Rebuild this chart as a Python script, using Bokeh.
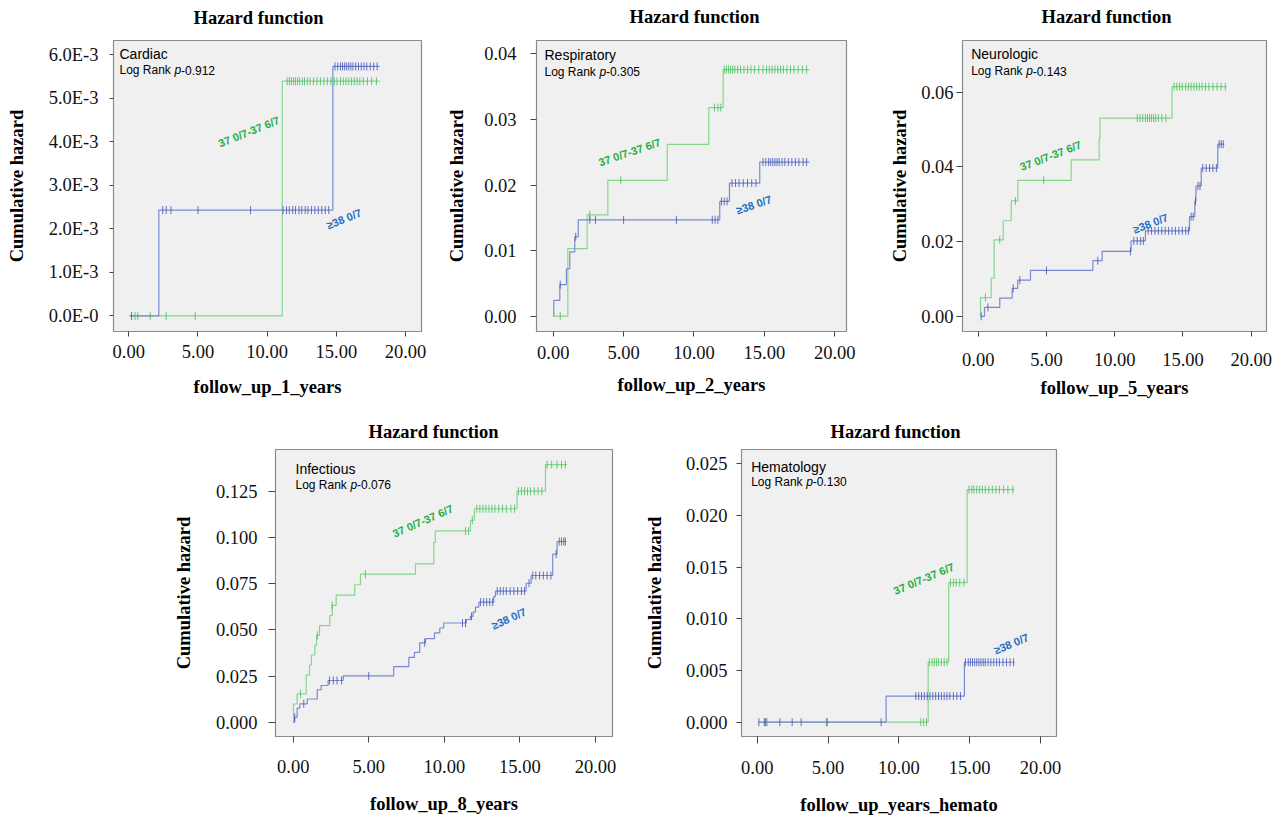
import numpy as np
from bokeh.plotting import figure
from bokeh.layouts import row, column
from bokeh.models import Spacer, Range1d, FixedTicker, Label
from bokeh.core.properties import value
from bokeh.embed import file_html
from bokeh.resources import INLINE

# ---------------- data ----------------
x_ticks = [0, 5, 10, 15, 20]
x_tick_labels = ["0.00", "5.00", "10.00", "15.00", "20.00"]

group_labels = ["37 0/7-37 6/7", "\u226538 0/7"]
chart_title = "Hazard function"
y_axis_title = "Cumulative hazard"

# Cardiac
cardiac_green_t = [0.05, 11.09, 18.13]
cardiac_green_h = [0.0, 5.39e-3, 5.39e-3]
cardiac_blue_t = [0.05, 2.17, 14.75, 18.13]
cardiac_blue_h = [0.0, 2.43e-3, 5.73e-3, 5.73e-3]
cardiac_green_cens = [0.45, 0.65, 1.55, 2.7, 4.8, 11.45, 11.6, 11.75, 11.9, 12.05, 12.2, 12.35, 12.55, 12.7,
                      12.9, 13.1, 13.35, 13.6, 13.85, 14.1, 14.35, 14.6, 14.85, 15.05, 15.3, 15.5, 15.7, 15.9,
                      16.1, 16.3, 16.5, 16.7, 16.95, 17.25, 17.55, 17.9]
cardiac_blue_cens = [0.2, 2.45, 2.7, 3.05, 5.0, 8.8, 11.15, 11.4, 11.6, 11.85, 12.05, 12.3, 12.5, 12.75, 12.95,
                     13.2, 13.45, 13.7, 13.95, 14.2, 14.45, 14.9, 15.1, 15.3, 15.45, 15.6, 15.75, 15.9, 16.05,
                     16.2, 16.4, 16.6, 16.8, 17.0, 17.2, 17.45, 17.7, 17.95]
cardiac_y_ticks = [0, 1e-3, 2e-3, 3e-3, 4e-3, 5e-3, 6e-3]
cardiac_y_labels = ["0.0E-0", "1.0E-3", "2.0E-3", "3.0E-3", "4.0E-3", "5.0E-3", "6.0E-3"]

# Respiratory
resp_green_t = [0.0, 1.04, 2.41, 3.88, 8.1, 11.05, 12.07, 18.2]
resp_green_h = [0.0, 0.0103, 0.01545, 0.0207, 0.0262, 0.0318, 0.0376, 0.0376]
resp_blue_t = [0.0, 0.04, 0.47, 0.94, 1.18, 1.53, 1.78, 11.83, 12.52, 14.67, 18.2]
resp_blue_h = [0.0, 0.0024, 0.0048, 0.0072, 0.0098, 0.0121, 0.0147, 0.0175, 0.0203, 0.0235, 0.0235]
resp_green_cens = [0.5, 2.6, 4.8, 11.45, 11.7, 11.9, 12.15, 12.3, 12.45, 12.6, 12.75, 12.9, 13.1, 13.3, 13.55,
                   13.8, 14.05, 14.3, 14.6, 14.9, 15.15, 15.35, 15.55, 15.75, 15.95, 16.15, 16.35, 16.6, 16.85,
                   17.1, 17.4, 17.7, 18.0]
resp_blue_cens = [0.5, 1.6, 2.6, 3.0, 5.0, 8.75, 11.3, 11.5, 11.7, 11.95, 12.15, 12.35, 12.7, 12.95, 13.2, 13.5,
                  13.8, 14.1, 14.4, 14.9, 15.1, 15.3, 15.45, 15.6, 15.75, 15.9, 16.05, 16.25, 16.45, 16.7, 16.95,
                  17.2, 17.45, 17.75, 18.0]
resp_y_ticks = [0, 0.01, 0.02, 0.03, 0.04]
resp_y_labels = ["0.00", "0.01", "0.02", "0.03", "0.04"]

# Neurologic
neuro_green_t = [0.17, 0.17, 0.95, 1.17, 1.83, 2.42, 2.9, 6.81, 8.86, 8.92, 14.2, 18.2]
neuro_green_h = [0.0, 0.005, 0.0102, 0.0205, 0.0256, 0.0309, 0.0364, 0.0419, 0.0475, 0.0531, 0.0615, 0.0615]
neuro_blue_t = [0.17, 0.46, 1.58, 2.49, 2.9, 3.83, 8.4, 9.08, 11.2, 12.25, 15.48, 15.87, 15.95, 16.34, 17.55, 18.04]
neuro_blue_h = [0.0, 0.0024, 0.0049, 0.0075, 0.0097, 0.0123, 0.0149, 0.0174, 0.0202, 0.0229, 0.0267, 0.0308,
                0.0349, 0.0397, 0.0461, 0.0461]
neuro_green_cens = [0.53, 1.58, 2.73, 4.8, 11.65, 11.85, 12.05, 12.25, 12.4, 12.55, 12.7, 12.85, 13.0, 13.2,
                    13.45, 13.75, 14.35, 14.55, 14.75, 14.95, 15.2, 15.4, 15.6, 15.8, 16.0, 16.2, 16.4, 16.65,
                    16.9, 17.2, 17.5, 17.8, 18.1]
neuro_blue_cens = [0.22, 0.71, 2.56, 3.05, 5.0, 8.76, 11.15, 11.4, 11.65, 11.9, 12.1, 12.45, 12.7, 12.95, 13.2,
                   13.45, 13.7, 13.95, 14.2, 14.45, 14.7, 14.95, 15.2, 15.4, 15.6, 15.75, 15.92, 16.1, 16.25,
                   16.45, 16.7, 16.95, 17.2, 17.45, 17.65, 17.8, 17.95]
neuro_y_ticks = [0, 0.02, 0.04, 0.06]
neuro_y_labels = ["0.00", "0.02", "0.04", "0.06"]

# Infectious
inf_green_t = [0.0, 0.02, 0.26, 0.86, 1.08, 1.2, 1.43, 1.54, 1.74, 2.42, 2.58, 2.84, 4.07, 4.45, 8.09, 9.3, 9.4,
               11.73, 11.99, 14.81, 16.69, 18.12]
inf_green_h = [0.0, 0.0099, 0.0154, 0.0256, 0.031, 0.0364, 0.0417, 0.047, 0.0523, 0.0577, 0.0632, 0.0688, 0.0744,
               0.0801, 0.0857, 0.0973, 0.1035, 0.1093, 0.1155, 0.125, 0.1394, 0.1394]
inf_blue_t = [0.0, 0.09, 0.26, 0.44, 0.93, 1.59, 1.85, 2.31, 3.31, 6.65, 7.65, 8.02, 8.37, 8.75, 9.35, 9.7, 9.96,
              11.46, 11.73, 11.9, 12.06, 12.28, 13.27, 13.38, 15.41, 15.74, 17.17, 17.46, 18.08]
inf_blue_h = [0.0, 0.0027, 0.0077, 0.01, 0.0126, 0.0176, 0.0199, 0.0226, 0.0251, 0.0301, 0.0351, 0.0378, 0.043,
              0.0453, 0.0484, 0.051, 0.0537, 0.0556, 0.0573, 0.0596, 0.0623, 0.065, 0.068, 0.071, 0.0752, 0.0794,
              0.091, 0.0978, 0.0978]
inf_green_cens = [0.48, 1.6, 2.58, 4.78, 11.4, 11.6, 11.85, 12.15, 12.35, 12.55, 12.75, 12.95, 13.15, 13.35, 13.6,
                  13.85, 14.1, 14.4, 14.65, 14.9, 15.1, 15.3, 15.5, 15.7, 15.95, 16.2, 16.45, 16.8, 17.1, 17.45,
                  17.75, 18.0]
inf_blue_cens = [0.1, 0.7, 2.4, 2.65, 2.9, 3.2, 5.0, 8.7, 11.2, 11.4, 11.8, 12.4, 12.6, 12.8, 13.0, 13.2, 13.5,
                 13.7, 13.9, 14.1, 14.35, 14.6, 14.85, 15.1, 15.3, 15.6, 15.85, 16.05, 16.3, 16.55, 16.8, 17.05,
                 17.4, 17.6, 17.75, 17.9, 18.0]
inf_y_ticks = [0, 0.025, 0.05, 0.075, 0.1, 0.125]
inf_y_labels = ["0.000", "0.025", "0.050", "0.075", "0.100", "0.125"]

# Hematology
hem_green_t = [0.07, 12.07, 13.52, 14.82, 18.16]
hem_green_h = [0.0, 0.0058, 0.0135, 0.0225, 0.0225]
hem_blue_t = [0.07, 9.1, 14.63, 18.16]
hem_blue_h = [0.0, 0.00252, 0.0058, 0.0058]
hem_green_cens = [0.6, 0.7, 4.88, 11.55, 11.75, 11.95, 12.15, 12.35, 12.5, 12.65, 12.8, 13.0, 13.2, 13.4, 13.65,
                  13.85, 14.05, 14.3, 14.6, 14.95, 15.15, 15.3, 15.5, 15.7, 15.9, 16.1, 16.35, 16.6, 16.85, 17.1,
                  17.4, 17.7, 18.05]
hem_blue_cens = [0.12, 0.5, 0.6, 1.6, 2.47, 3.1, 4.94, 8.75, 11.2, 11.4, 11.6, 11.8, 12.0, 12.2, 12.4, 12.6, 12.8,
                 13.0, 13.2, 13.4, 13.6, 13.85, 14.1, 14.35, 14.7, 14.9, 15.05, 15.2, 15.35, 15.5, 15.65, 15.8,
                 15.95, 16.1, 16.3, 16.5, 16.7, 16.9, 17.1, 17.35, 17.6, 17.85, 18.1]
hem_y_ticks = [0, 0.005, 0.01, 0.015, 0.02, 0.025]
hem_y_labels = ["0.000", "0.005", "0.010", "0.015", "0.020", "0.025"]

panel_names = ["Cardiac", "Respiratory", "Neurologic", "Infectious", "Hematology"]
p_values = ["-0.912", "-0.305", "-0.143", "-0.076", "-0.130"]
x_axis_labels = ["follow_up_1_years", "follow_up_2_years", "follow_up_5_years", "follow_up_8_years",
                 "follow_up_years_hemato"]

# ---------------- styling ----------------
SERIF = "Liberation Serif"
SANS = "Liberation Sans"
BG = "#f0f0f0"
GREEN_LINE = "#86d68a"
GREEN_MARK = "#3fbf5a"
BLUE_LINE = "#7b89d2"
BLUE_MARK = "#3d52b8"
GREEN_TEXT = "#1fae45"
BLUE_TEXT = "#1d6fc6"


def step_at(times, haz, ts):
    idx = np.searchsorted(np.asarray(times), np.asarray(ts), side="right") - 1
    idx = np.clip(idx, 0, len(haz) - 1)
    return np.asarray(haz)[idx]


def title_band(W, Hb, tx, ty):
    t = figure(width=W, height=Hb, x_range=Range1d(0, W), y_range=Range1d(Hb, 0),
               output_backend="svg", toolbar_location=None, title=None,
               x_axis_type=None, y_axis_type=None,
               min_border_left=0, min_border_right=0, min_border_top=0, min_border_bottom=0,
               background_fill_color="white", border_fill_color="white", outline_line_color=None)
    t.grid.visible = False
    t.text(x=[tx], y=[ty], text=[chart_title], text_font=value(SERIF), text_font_style="bold",
           text_font_size=value("18.5px"), text_color="black", text_align="left", text_baseline="middle")
    return t


def make_panel(cfg):
    fw, fh = cfg["fw"], cfg["fh"]
    L, T, W, H = cfg["L"], cfg["T"], cfg["W"], cfg["H"]
    xs, xe = cfg["xr"]
    ys, ye = cfg["yr"]
    p = figure(width=W, height=H, x_range=Range1d(xs, xe), y_range=Range1d(ys, ye),
               output_backend="svg", toolbar_location=None, title=None,
               min_border_left=L, min_border_top=T, min_border_right=W - L - fw,
               min_border_bottom=H - T - fh,
               background_fill_color=BG, border_fill_color="white",
               outline_line_color="#8a8a8a", outline_line_width=1.2)
    p.xgrid.visible = False
    p.ygrid.visible = False
    px2x = (xe - xs) / fw
    px2y = (ye - ys) / fh

    for ax, tks, labs in ((p.xaxis, x_ticks, x_tick_labels), (p.yaxis, cfg["yt"], cfg["yl"])):
        ax.ticker = FixedTicker(ticks=tks)
        ax.major_label_overrides = {t: l for t, l in zip(tks, labs)}
        ax.axis_line_color = None
        ax.minor_tick_line_color = None
        ax.major_tick_in = 0
        ax.major_tick_line_color = "#444444"
        ax.major_label_text_font = SERIF
        ax.major_label_text_font_size = "18.5px"
        ax.major_label_text_color = "#111111"
        ax.axis_label_text_font = SERIF
        ax.axis_label_text_font_style = "bold"
        ax.axis_label_text_font_size = "18.5px"
        ax.axis_label_text_color = "black"
    p.xaxis.axis_label = cfg["xlabel"]
    p.yaxis.axis_label = y_axis_title
    p.xaxis.major_tick_out = cfg["xto"]
    p.xaxis.major_label_standoff = cfg["xls"]
    p.xaxis.axis_label_standoff = cfg["xas"]
    p.yaxis.major_tick_out = cfg["yto"]
    p.yaxis.major_label_standoff = cfg["yls"]
    p.yaxis.axis_label_standoff = cfg["yas"]

    # curves with censoring marks
    for t, h, cens, lc, mc in ((cfg["gt"], cfg["gh"], cfg["gc"], GREEN_LINE, GREEN_MARK),
                               (cfg["bt"], cfg["bh"], cfg["bc"], BLUE_LINE, BLUE_MARK)):
        p.step(t, h, mode="after", line_color=lc, line_width=1.2)
        p.scatter(cens, step_at(t, h, cens), marker="dash", angle=np.pi / 2, size=8,
                  line_color=mc, line_width=1.0, line_alpha=0.8)

    # corner annotation
    ax_, dy1, dy2 = cfg["ann"]
    x0 = xs + ax_ * px2x
    p.add_layout(Label(x=x0, y=ye - dy1 * px2y, text=cfg["name"], text_font=SANS, text_font_size="14px",
                       text_color="black", text_baseline="middle", text_align="left"))
    yl2 = ye - dy2 * px2y
    p.add_layout(Label(x=x0, y=yl2, text="Log Rank", text_font=SANS, text_font_size="12px",
                       text_color="black", text_baseline="middle", text_align="left"))
    p.add_layout(Label(x=x0, y=yl2, x_offset=55, text="p", text_font=SANS, text_font_size="12px",
                       text_font_style="italic", text_color="black", text_baseline="middle",
                       text_align="left"))
    p.add_layout(Label(x=x0, y=yl2, x_offset=61.5, text=cfg["pv"], text_font=SANS, text_font_size="12px",
                       text_color="black", text_baseline="middle", text_align="left"))

    # group labels
    for (lx, ly), txt, col in ((cfg["glab"], group_labels[0], GREEN_TEXT), (cfg["blab"], group_labels[1], BLUE_TEXT)):
        p.add_layout(Label(x=lx, y=ly, text=txt, angle=cfg["ang"], angle_units="deg", text_font=SANS,
                           text_font_size="11px", text_font_style="bold", text_color=col,
                           text_align="center", text_baseline="middle"))
    return p


HB1, HM1 = 36, 368   # title band / main height, top row
HB2, HM2 = 43, 371   # title band / main height, bottom row
cfgs = [
    dict(name=panel_names[0], pv=p_values[0], xlabel=x_axis_labels[0],
         gt=cardiac_green_t, gh=cardiac_green_h, gc=cardiac_green_cens,
         bt=cardiac_blue_t, bh=cardiac_blue_h, bc=cardiac_blue_cens,
         yt=cardiac_y_ticks, yl=cardiac_y_labels,
         W=440, H=HM1, L=113, T=2, fw=308, fh=294, xr=(-1.106, 21.156), yr=(-0.357e-3, 6.325e-3),
         tpos=(193, 17), xto=5, xls=8, xas=16, yto=4, yls=11, yas=19,
         ann=(6, 13.4, 30), glab=(8.68, 4.23e-3), blab=(15.55, 2.23e-3), ang=22),
    dict(name=panel_names[1], pv=p_values[1], xlabel=x_axis_labels[1],
         gt=resp_green_t, gh=resp_green_h, gc=resp_green_cens,
         bt=resp_blue_t, bh=resp_blue_h, bc=resp_blue_cens,
         yt=resp_y_ticks, yl=resp_y_labels,
         W=430, H=HM1, L=96, T=4, fw=310, fh=291, xr=(-1.186, 20.831), yr=(-0.002332, 0.04203),
         tpos=(189, 16.7), xto=5, xls=9, xas=13, yto=6, yls=14, yas=14,
         ann=(8, 14.3, 31), glab=(5.42, 0.025), blab=(14.25, 0.017), ang=19),
    dict(name=panel_names[2], pv=p_values[2], xlabel=x_axis_labels[2],
         gt=neuro_green_t, gh=neuro_green_h, gc=neuro_green_cens,
         bt=neuro_blue_t, bh=neuro_blue_h, bc=neuro_blue_cens,
         yt=neuro_y_ticks, yl=neuro_y_labels,
         W=410, H=HM1, L=92, T=1, fw=304, fh=294, xr=(-1.150, 21.121), yr=(-0.004055, 0.07386),
         tpos=(171, 16.7), xto=5, xls=16, xas=9, yto=6, yls=3, yas=8,
         ann=(8.7, 14, 31.3), glab=(5.3, 0.043), blab=(12.62, 0.0249), ang=21),
    dict(name=panel_names[3], pv=p_values[3], xlabel=x_axis_labels[3],
         gt=inf_green_t, gh=inf_green_h, gc=inf_green_cens,
         bt=inf_blue_t, bh=inf_blue_h, bc=inf_blue_cens,
         yt=inf_y_ticks, yl=inf_y_labels,
         W=478, H=HM2, L=125, T=1, fw=337, fh=289, xr=(-1.171, 21.125), yr=(-0.007682, 0.14756),
         tpos=(218, 27.7), xto=6, xls=17, xas=18, yto=7, yls=11, yas=19,
         ann=(20, 19.7, 35.3), glab=(8.57, 0.1089), blab=(14.26, 0.0561), ang=24),
    dict(name=panel_names[4], pv=p_values[4], xlabel=x_axis_labels[4],
         gt=hem_green_t, gh=hem_green_h, gc=hem_green_cens,
         bt=hem_blue_t, bh=hem_blue_h, bc=hem_blue_cens,
         yt=hem_y_ticks, yl=hem_y_labels,
         W=448, H=HM2, L=113, T=2, fw=315, fh=287, xr=(-1.108, 21.13), yr=(-0.001384, 0.026383),
         tpos=(202, 27.7), xto=7, xls=17, xas=18, yto=5, yls=9, yas=18,
         ann=(9.7, 17.7, 32), glab=(11.76, 0.01388), blab=(17.93, 0.00759), ang=23),
]

panels = [make_panel(c) for c in cfgs]
bands = [title_band(c["W"], HB1 if i < 3 else HB2, *c["tpos"]) for i, c in enumerate(cfgs)]

layout = column(
    row(bands[0], bands[1], bands[2], spacing=0),
    row(panels[0], panels[1], panels[2], spacing=0),
    row(Spacer(width=150, height=HB2), bands[3], bands[4], spacing=0),
    row(Spacer(width=150, height=HM2), panels[3], panels[4], spacing=0),
    spacing=0,
)

open("out.html", "w").write(file_html(layout, INLINE))
